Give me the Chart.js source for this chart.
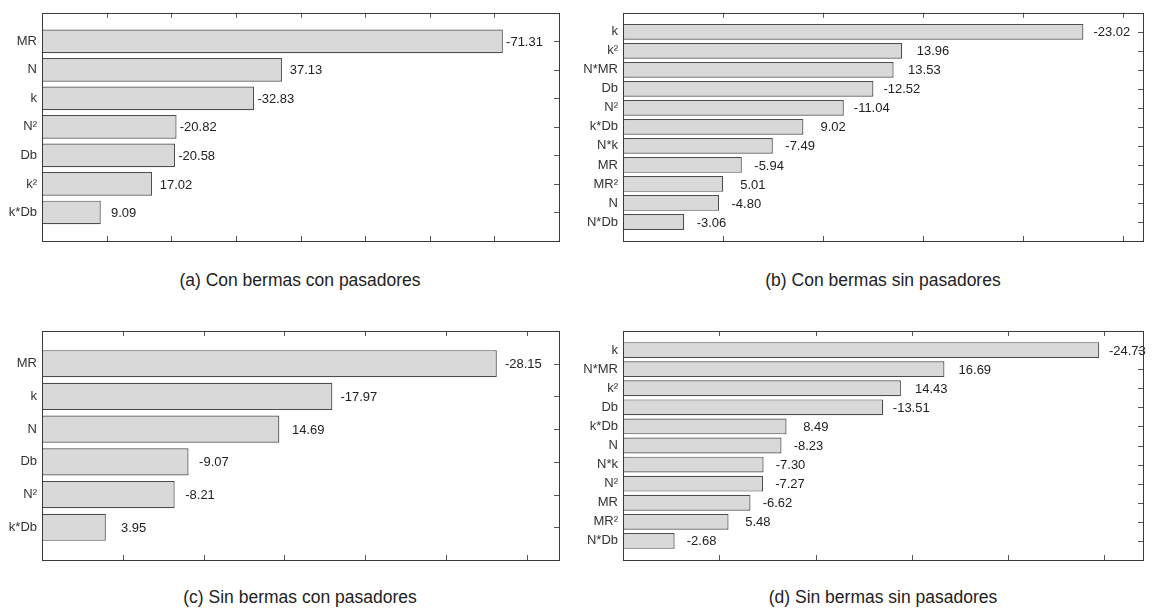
<!DOCTYPE html>
<html lang="es">
<head>
<meta charset="UTF-8">
<title>Efectos estandarizados</title>
<script src="https://cdn.jsdelivr.net/npm/chart.js"></script>
<style>
    body { margin: 0; background: #fff; font-family: 'Liberation Sans', Arial, sans-serif; }
    #wrap { position: relative; width: 1153px; height: 610px; overflow: hidden; }
    canvas { position: absolute; }
    .cap { position: absolute; width: 400px; text-align: center; font-size: 17.5px; line-height: 20px; color: #222; }
</style>
</head>
<body>
<div id="wrap">
    <canvas id="chartA" style="left:0;top:0"></canvas>
    <canvas id="chartB" style="left:576px;top:0"></canvas>
    <canvas id="chartC" style="left:0;top:300px"></canvas>
    <canvas id="chartD" style="left:576px;top:300px"></canvas>
    <div class="cap" style="left:100px;top:270px">(a) Con bermas con pasadores</div>
    <div class="cap" style="left:683px;top:270px">(b) Con bermas sin pasadores</div>
    <div class="cap" style="left:100px;top:587px">(c) Sin bermas con pasadores</div>
    <div class="cap" style="left:683px;top:587px">(d) Sin bermas sin pasadores</div>
</div>

<script>
    // (a) Con bermas con pasadores
    const factoresA = ['MR', 'N', 'k', 'N²', 'Db', 'k²', 'k*Db'];
    const efectosA = [-71.31, 37.13, -32.83, -20.82, -20.58, 17.02, 9.09];

    // (b) Con bermas sin pasadores
    const factoresB = ['k', 'k²', 'N*MR', 'Db', 'N²', 'k*Db', 'N*k', 'MR', 'MR²', 'N', 'N*Db'];
    const efectosB = [-23.02, 13.96, 13.53, -12.52, -11.04, 9.02, -7.49, -5.94, 5.01, -4.80, -3.06];

    // (c) Sin bermas con pasadores
    const factoresC = ['MR', 'k', 'N', 'Db', 'N²', 'k*Db'];
    const efectosC = [-28.15, -17.97, 14.69, -9.07, -8.21, 3.95];

    // (d) Sin bermas sin pasadores
    const factoresD = ['k', 'N*MR', 'k²', 'Db', 'k*Db', 'N', 'N*k', 'N²', 'MR', 'MR²', 'N*Db'];
    const efectosD = [-24.73, 16.69, 14.43, -13.51, 8.49, -8.23, -7.30, -7.27, -6.62, 5.48, -2.68];

    // limites del eje x y separacion de marcas
    const ejeMax = [80, 26, 32, 27];
    const ejePaso = [10, 5, 5, 5];

    const FONT = "'Liberation Sans', Arial, sans-serif";

    // marco y marcas hacia dentro, como en MATLAB
    const marcoPlugin = {
        id: 'marco',
        afterDraw(chart) {
            const { ctx, chartArea: a, scales: { x, y } } = chart;
            const paso = chart.options.plugins.marco.paso;
            const n = chart.options.plugins.marco.n;
            ctx.save();
            ctx.strokeStyle = '#555';
            ctx.lineWidth = 1;
            ctx.beginPath();
            for (let v = paso; v < x.max - 0.01; v += paso) {
                const px = Math.round(x.getPixelForValue(v)) + 0.5;
                ctx.moveTo(px, a.top); ctx.lineTo(px, a.top + 5);
                ctx.moveTo(px, a.bottom); ctx.lineTo(px, a.bottom - 5);
            }
            for (let i = 1; i <= n; i++) {
                const py = Math.round(y.getPixelForValue(i)) + 0.5;
                ctx.moveTo(a.right, py); ctx.lineTo(a.right - 5, py);
            }
            ctx.stroke();
            ctx.strokeStyle = '#3a3a3a';
            ctx.strokeRect(Math.round(a.left) + 0.5, Math.round(a.top) + 0.5,
                Math.round(a.right - a.left), Math.round(a.bottom - a.top));
            ctx.restore();
        }
    };

    // etiquetas con el valor del efecto al final de cada barra
    const valoresPlugin = {
        id: 'valores',
        afterDatasetsDraw(chart) {
            const { ctx, scales: { x } } = chart;
            const vals = chart.options.plugins.valores.vals;
            const meta = chart.getDatasetMeta(0);
            ctx.save();
            ctx.font = '13px ' + FONT;
            ctx.fillStyle = '#222';
            ctx.textBaseline = 'middle';
            meta.data.forEach((bar, i) => {
                const v = vals[i];
                const abs = Math.abs(v);
                let px = x.getPixelForValue(abs + 0.5);
                if (v >= 0) px += 4.5;
                if (abs < 10) px += 2.5;
                ctx.fillText(v.toFixed(2), px, bar.y + 1);
            });
            ctx.restore();
        }
    };

    function crearPanel(id, factores, efectos, max, paso, ancho, alto, pad, anchoY) {
        const canvas = document.getElementById(id);
        canvas.width = ancho;
        canvas.height = alto;
        const puntos = efectos.map((v, i) => ({ x: Math.abs(v), y: i + 1 }));
        new Chart(canvas, {
            type: 'bar',
            data: {
                datasets: [{
                    data: puntos,
                    backgroundColor: '#d9d9d9',
                    borderColor: '#4d4d4d',
                    borderWidth: 1.2,
                    borderSkipped: false,
                    barPercentage: 0.83,
                    categoryPercentage: 1
                }]
            },
            options: {
                indexAxis: 'y',
                responsive: false,
                animation: false,
                layout: { padding: pad },
                scales: {
                    x: { type: 'linear', display: false, min: 0, max: max },
                    y: {
                        type: 'linear',
                        reverse: true,
                        offset: false,
                        min: 0,
                        max: factores.length + 1,
                        grid: { display: false, drawTicks: false, offset: false },
                        border: { display: false },
                        ticks: {
                            stepSize: 1,
                            autoSkip: false,
                            maxTicksLimit: 30,
                            padding: 5,
                            color: '#333',
                            font: { family: FONT, size: 13 },
                            callback: v => (v >= 1 && v <= factores.length) ? factores[v - 1] : null
                        },
                        afterFit(scale) { scale.width = anchoY; }
                    }
                },
                plugins: {
                    legend: { display: false },
                    tooltip: { enabled: false },
                    marco: { paso: paso, n: factores.length },
                    valores: { vals: efectos }
                }
            },
            plugins: [marcoPlugin, valoresPlugin]
        });
    }

    crearPanel('chartA', factoresA, efectosA, ejeMax[0], ejePaso[0], 576, 260,
        { top: 12, right: 17, bottom: 19, left: 0 }, 42);
    crearPanel('chartB', factoresB, efectosB, ejeMax[1], ejePaso[1], 577, 260,
        { top: 12, right: 10, bottom: 19, left: 0 }, 47);
    crearPanel('chartC', factoresC, efectosC, ejeMax[2], ejePaso[2], 576, 280,
        { top: 31, right: 17, bottom: 20, left: 0 }, 42);
    crearPanel('chartD', factoresD, efectosD, ejeMax[3], ejePaso[3], 577, 280,
        { top: 31, right: 10, bottom: 20, left: 0 }, 47);
</script>
</body>
</html>
